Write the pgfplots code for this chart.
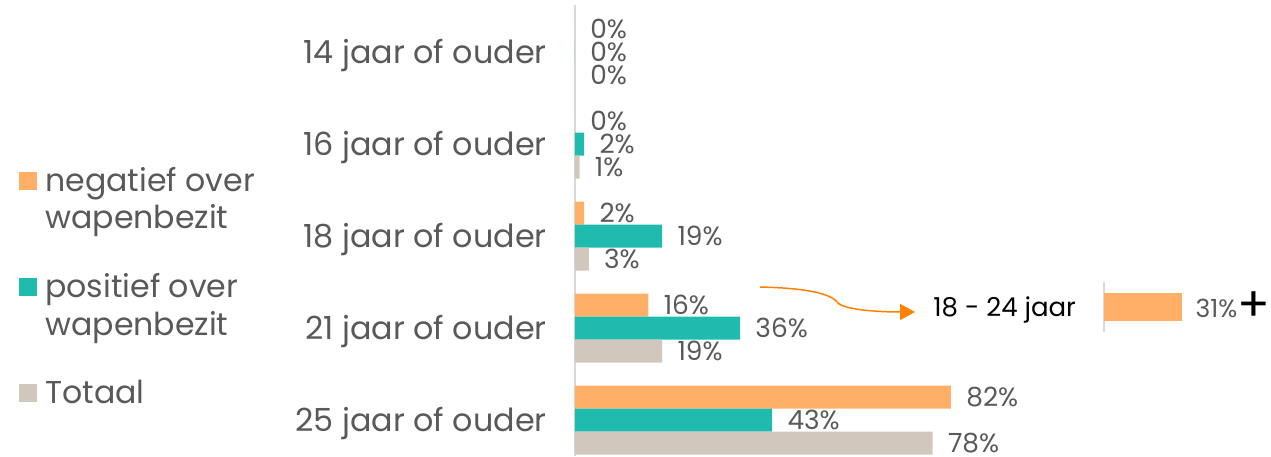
\documentclass[border=0pt]{standalone}
\usepackage{fontspec}
\setmainfont{Poppins}
\usepackage{pgfplots}
\pgfplotsset{compat=1.18}
\usetikzlibrary{arrows.meta}
\definecolor{cOr}{RGB}{255,176,102}
\definecolor{cTe}{RGB}{32,187,175}
\definecolor{cGr}{RGB}{209,199,189}
\definecolor{cTx}{RGB}{89,89,89}
\definecolor{cAr}{RGB}{255,128,0}
\definecolor{cAx}{RGB}{217,217,217}
\begin{document}
\begin{tikzpicture}[x=1pt,y=1pt]
\useasboundingbox (0,0) rectangle (635.5,228);
\begin{axis}[
 at={(287.5pt,0pt)}, anchor=south west,
 scale only axis, width=229.25pt, height=225.5pt,
 xmin=0, xmax=100, ymin=-0.511, ymax=4.391, y dir=reverse,
 axis x line=none, axis y line*=left,
 y axis line style={draw=cAx, line width=1pt},
 ytick={0,1,2,3,4},
 yticklabels={14 jaar of ouder,16 jaar of ouder,18 jaar of ouder,21 jaar of ouder,25 jaar of ouder},
 major tick length=0pt,
 yticklabel style={font=\fontsize{15.9}{18}\selectfont, text=cTx, inner sep=0pt, anchor=east, xshift=-14pt, yshift=-1.5pt},
 xbar, bar width=0.25,
 point meta=x,
 nodes near coords={\pgfmathprintnumber{\pgfplotspointmeta}\%},
 /pgf/number format/assume math mode=true,
 every node near coord/.append style={font=\fontsize{13.2}{15}\selectfont, text=cTx, anchor=west, inner sep=0pt, xshift=7.5pt},
 clip=false,
]
\addplot[fill=cOr, draw=none, bar shift=-0.25] coordinates {(0,0) (0,1) (2,2) (16,3) (82,4)};
\addplot[fill=cTe, draw=none, bar shift=0] coordinates {(0,0) (2,1) (19,2) (36,3) (43,4)};
\addplot[fill=cGr, draw=none, bar shift=0.25] coordinates {(0,0) (1,1) (3,2) (19,3) (78,4)};
\end{axis}
\begin{axis}[
 at={(552pt,62pt)}, anchor=south west,
 scale only axis, width=126pt, height=25pt,
 xmin=0, xmax=100, ymin=-0.5, ymax=0.5,
 axis x line=none, axis y line*=left, ytick=\empty,
 y axis line style={draw=cAx, line width=1pt},
 xbar, bar width=0.54, bar shift=0,
 point meta=x,
 nodes near coords={\pgfmathprintnumber{\pgfplotspointmeta}\%\raisebox{-2pt}{\color{black}\fontsize{24}{24}\selectfont+}},
 /pgf/number format/assume math mode=true,
 every node near coord/.append style={font=\fontsize{12.5}{14}\selectfont, text=cTx, anchor=west, inner sep=0pt, xshift=6.5pt},
 clip=false,
]
\addplot[fill=cOr, draw=none] coordinates {(31,0)};
\end{axis}
% annotation arrow
\draw[cAr, line width=0.75pt, -{Triangle[length=7.5pt,width=8pt]}]
  (380,84.5) .. controls (400,84) and (415,82) .. (419,76.5)
  .. controls (422.5,73) and (440,72) .. (457.5,72);
\node[anchor=west, inner sep=0pt, font=\fontsize{13}{15}\selectfont] at (466.5,73) {18 - 24 jaar};
% legend
\fill[cOr] (9.5,133) rectangle (18.5,142);
\fill[cTe] (9.5,80) rectangle (18.5,89);
\fill[cGr] (9.5,27) rectangle (18.5,36);
\begin{scope}[every node/.style={anchor=mid west, inner sep=0pt, text=cTx, font=\fontsize{15.8}{18}\selectfont}]
\node at (22.5,135) {negatief over};
\node at (22.5,116.5) {wapenbezit};
\node at (22.5,82) {positief over};
\node at (22.5,63) {wapenbezit};
\node at (22.5,29) {Totaal};
\end{scope}
\end{tikzpicture}
\end{document}
